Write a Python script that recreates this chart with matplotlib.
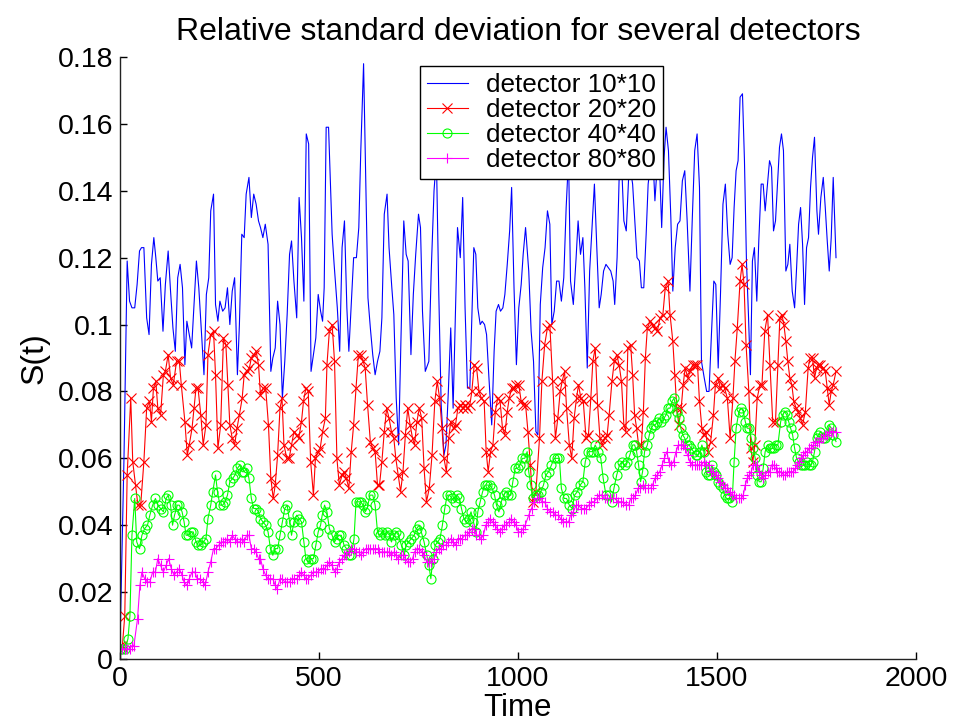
import matplotlib
matplotlib.use("Agg")
import matplotlib.pyplot as plt
from matplotlib.ticker import FixedLocator, FixedFormatter

# ---------------- data ----------------
t_10 = [0,10,18,24,30,37,43,49,54,60,67,73,79,85,90,95,101,108,114,121,127,133,139,145,151,157,163,168,174,180,
        186,192,198,204,211,217,223,228,235,240,246,251,258,264,270,276,282,288,295,300,306,312,317,324,330,336,342,348,353,359,
        365,372,379,384,390,396,402,408,414,420,426,431,437,444,450,456,462,468,474,480,486,492,498,504,509,513,518,524,533,538,
        546,552,558,564,570,575,581,587,594,600,605,612,617,623,629,635,641,647,653,658,664,671,676,683,688,694,700,706,713,719,
        724,731,737,743,750,755,760,767,776,782,789,795,801,807,814,819,825,831,837,843,848,855,861,867,873,879,884,889,894,899,
        905,910,916,921,927,934,940,945,951,956,962,967,973,979,984,990,996,1002,1008,1013,1019,1027,1033,1039,1045,1050,1056,1062,1068,1074,
        1080,1085,1091,1097,1103,1109,1115,1121,1127,1132,1139,1146,1151,1157,1163,1168,1174,1180,1186,1192,1198,1204,1209,1215,1221,1227,1233,1239,1243,1249,
        1255,1261,1266,1272,1278,1283,1288,1293,1299,1305,1310,1316,1322,1327,1333,1339,1344,1350,1356,1361,1367,1372,1378,1384,1389,1395,1401,1407,1413,1419,
        1425,1432,1438,1444,1450,1456,1461,1468,1474,1480,1486,1492,1497,1503,1509,1515,1521,1527,1533,1538,1543,1548,1553,1558,1564,1569,1574,1579,1584,1589,
        1594,1600,1605,1611,1616,1621,1627,1632,1637,1642,1647,1652,1657,1662,1667,1673,1678,1683,1689,1695,1700,1705,1710,1715,1720,1725,1730,1735,1740,1745,
        1751,1755,1761,1767,1772,1777,1782,1787,1792,1799]
s_10 = [0.004,0.060,0.119,0.107,0.105,0.105,0.112,0.122,0.123,0.123,0.102,0.097,0.118,0.126,0.120,0.113,0.114,0.098,0.112,0.122,0.110,0.099,0.092,0.114,0.118,0.111,0.088,0.101,0.097,0.093,
        0.106,0.119,0.111,0.099,0.085,0.109,0.114,0.134,0.139,0.106,0.101,0.107,0.104,0.105,0.111,0.100,0.110,0.114,0.085,0.100,0.127,0.126,0.139,0.144,0.132,0.139,0.136,0.131,0.129,0.126,
        0.130,0.124,0.086,0.090,0.093,0.107,0.100,0.078,0.089,0.103,0.121,0.125,0.113,0.102,0.138,0.126,0.107,0.157,0.154,0.086,0.091,0.096,0.109,0.104,0.101,0.111,0.159,0.159,0.127,0.118,
        0.105,0.092,0.123,0.131,0.105,0.092,0.106,0.120,0.120,0.129,0.152,0.178,0.146,0.108,0.099,0.091,0.085,0.089,0.092,0.102,0.133,0.139,0.123,0.111,0.103,0.078,0.064,0.096,0.131,0.121,
        0.119,0.091,0.109,0.121,0.133,0.129,0.104,0.086,0.089,0.116,0.140,0.150,0.109,0.076,0.061,0.064,0.080,0.099,0.075,0.104,0.129,0.120,0.138,0.105,0.081,0.081,0.102,0.123,0.121,0.105,
        0.100,0.101,0.100,0.097,0.084,0.070,0.092,0.104,0.106,0.104,0.105,0.109,0.118,0.128,0.141,0.111,0.088,0.105,0.112,0.121,0.129,0.116,0.098,0.089,0.068,0.067,0.106,0.117,0.123,0.134,
        0.130,0.100,0.104,0.113,0.113,0.107,0.114,0.135,0.150,0.113,0.106,0.120,0.131,0.121,0.126,0.111,0.087,0.116,0.129,0.142,0.123,0.105,0.109,0.116,0.118,0.117,0.116,0.113,0.106,0.120,
        0.148,0.146,0.131,0.128,0.144,0.146,0.142,0.132,0.120,0.119,0.111,0.111,0.127,0.142,0.148,0.150,0.137,0.148,0.146,0.129,0.150,0.159,0.152,0.132,0.110,0.123,0.130,0.131,0.143,0.146,
        0.131,0.110,0.132,0.152,0.157,0.141,0.089,0.084,0.080,0.080,0.097,0.113,0.112,0.087,0.110,0.136,0.142,0.127,0.118,0.120,0.135,0.146,0.149,0.168,0.169,0.149,0.119,0.103,0.085,0.119,
        0.123,0.107,0.125,0.142,0.142,0.134,0.142,0.149,0.147,0.128,0.131,0.142,0.153,0.157,0.152,0.116,0.118,0.124,0.110,0.105,0.117,0.130,0.135,0.124,0.106,0.123,0.126,0.141,0.150,0.156,
        0.134,0.127,0.138,0.144,0.135,0.125,0.116,0.126,0.144,0.120]

t_20 = [0,6,12,18,27,32,39,45,52,60,67,74,79,84,90,95,102,109,114,121,127,134,142,149,154,163,169,174,181,186,
        191,196,203,209,216,221,228,235,240,246,253,260,266,271,276,282,288,294,300,307,312,318,325,330,337,342,348,353,360,366,
        373,379,385,390,396,402,407,412,419,425,431,437,444,449,456,461,467,473,479,486,491,498,503,509,516,520,526,533,539,545,
        551,558,563,569,575,581,587,593,599,605,611,616,622,629,635,641,647,652,658,664,670,676,682,688,693,699,705,711,717,723,
        729,735,740,746,752,758,764,770,777,784,791,797,803,809,814,820,826,831,838,843,849,855,861,867,873,879,884,890,896,902,
        908,915,920,925,931,937,943,949,955,961,967,973,978,984,990,996,1002,1008,1013,1019,1025,1031,1037,1045,1054,1060,1067,1074,1080,1087,
        1094,1100,1106,1111,1117,1122,1129,1135,1141,1147,1152,1158,1164,1171,1177,1183,1188,1194,1200,1206,1212,1218,1224,1229,1236,1242,1248,1254,1260,1266,
        1271,1276,1283,1288,1293,1298,1303,1310,1315,1320,1325,1332,1338,1343,1350,1357,1364,1370,1377,1382,1389,1394,1399,1404,1410,1415,1420,1427,1432,1439,
        1444,1451,1456,1462,1467,1472,1477,1484,1491,1496,1503,1508,1514,1519,1526,1533,1540,1545,1551,1558,1563,1568,1573,1580,1585,1590,1595,1601,1608,1613,
        1620,1627,1633,1640,1647,1653,1658,1663,1668,1673,1678,1683,1688,1693,1699,1704,1709,1715,1722,1729,1734,1740,1745,1750,1755,1760,1767,1772,1777,1782,
        1787,1792,1799]
s_20 = [0.004,0.004,0.013,0.055,0.078,0.059,0.052,0.046,0.046,0.059,0.075,0.077,0.071,0.081,0.083,0.075,0.073,0.085,0.086,0.091,0.084,0.082,0.089,0.089,0.082,0.071,0.061,0.064,0.069,0.075,
        0.081,0.081,0.073,0.064,0.070,0.091,0.097,0.098,0.085,0.063,0.070,0.096,0.094,0.082,0.070,0.066,0.064,0.069,0.073,0.078,0.085,0.086,0.087,0.090,0.091,0.092,0.088,0.079,0.081,0.081,
        0.070,0.054,0.048,0.052,0.061,0.075,0.078,0.064,0.060,0.060,0.064,0.068,0.067,0.066,0.071,0.077,0.081,0.080,0.059,0.049,0.060,0.062,0.063,0.068,0.072,0.088,0.098,0.100,0.089,0.060,
        0.052,0.055,0.056,0.054,0.051,0.062,0.070,0.081,0.091,0.091,0.089,0.087,0.076,0.065,0.063,0.062,0.052,0.052,0.059,0.068,0.075,0.072,0.068,0.066,0.060,0.055,0.050,0.056,0.067,0.075,
        0.070,0.066,0.064,0.071,0.075,0.072,0.057,0.047,0.051,0.061,0.077,0.083,0.078,0.069,0.060,0.056,0.066,0.071,0.069,0.070,0.075,0.076,0.075,0.076,0.075,0.076,0.080,0.088,0.087,0.080,
        0.078,0.077,0.062,0.056,0.062,0.064,0.074,0.078,0.077,0.069,0.067,0.074,0.078,0.081,0.081,0.082,0.082,0.077,0.076,0.076,0.068,0.058,0.047,0.050,0.066,0.083,0.094,0.099,0.100,0.083,
        0.066,0.072,0.080,0.083,0.086,0.075,0.064,0.060,0.072,0.078,0.082,0.078,0.077,0.066,0.067,0.078,0.089,0.093,0.076,0.066,0.064,0.066,0.067,0.073,0.083,0.089,0.091,0.088,0.083,0.070,
        0.068,0.093,0.094,0.085,0.073,0.069,0.064,0.064,0.074,0.090,0.099,0.101,0.100,0.099,0.098,0.102,0.103,0.111,0.113,0.103,0.095,0.085,0.075,0.070,0.075,0.082,0.087,0.084,0.086,0.088,
        0.088,0.088,0.077,0.069,0.067,0.068,0.062,0.065,0.073,0.082,0.084,0.081,0.082,0.081,0.078,0.066,0.078,0.089,0.099,0.113,0.118,0.112,0.094,0.080,0.063,0.059,0.064,0.078,0.082,0.082,
        0.098,0.103,0.088,0.071,0.071,0.088,0.102,0.103,0.100,0.095,0.089,0.084,0.082,0.077,0.075,0.074,0.072,0.070,0.074,0.087,0.090,0.090,0.084,0.087,0.088,0.088,0.087,0.086,0.081,0.076,
        0.080,0.082,0.086]

t_40 = [0,6,12,20,25,30,37,42,49,55,62,69,75,82,89,95,102,109,116,121,127,132,137,144,149,156,161,166,171,178,
        184,191,196,203,209,216,221,228,233,240,245,251,258,264,270,276,283,289,295,301,307,312,318,324,330,336,342,348,353,359,
        366,372,378,384,390,396,402,408,414,420,426,431,437,444,450,456,462,467,473,479,486,492,498,504,508,514,520,526,533,539,
        544,550,556,563,569,575,581,588,593,600,605,611,616,621,628,635,641,647,653,658,665,670,677,682,688,693,700,707,714,719,
        725,732,739,745,752,757,764,771,776,781,786,792,798,804,810,816,822,828,834,841,847,853,858,864,870,876,882,888,894,899,
        905,911,917,923,929,935,941,946,952,958,964,970,976,982,987,993,999,1005,1011,1017,1023,1027,1032,1037,1044,1050,1057,1064,1070,1077,
        1084,1091,1097,1104,1109,1116,1122,1129,1136,1142,1149,1156,1163,1169,1176,1183,1188,1194,1201,1208,1214,1221,1228,1235,1241,1248,1255,1261,1268,1275,
        1281,1288,1293,1298,1303,1308,1313,1318,1325,1330,1335,1340,1345,1350,1355,1360,1367,1372,1377,1382,1387,1392,1399,1404,1409,1414,1419,1425,1430,1435,
        1441,1446,1451,1457,1462,1467,1472,1477,1482,1487,1492,1497,1503,1508,1514,1519,1524,1531,1538,1543,1548,1555,1561,1566,1571,1576,1581,1586,1591,1596,
        1601,1606,1611,1616,1621,1627,1632,1637,1642,1647,1653,1660,1665,1670,1675,1680,1685,1690,1695,1700,1705,1710,1715,1720,1725,1730,1735,1740,1745,1750,
        1755,1760,1767,1772,1777,1782,1787,1792,1799]
s_40 = [0.003,0.003,0.003,0.006,0.013,0.037,0.048,0.035,0.033,0.037,0.039,0.040,0.043,0.046,0.048,0.046,0.045,0.044,0.048,0.049,0.046,0.040,0.043,0.046,0.046,0.044,0.041,0.037,0.037,0.038,
        0.038,0.035,0.034,0.034,0.035,0.036,0.042,0.046,0.050,0.055,0.050,0.046,0.046,0.047,0.049,0.053,0.054,0.055,0.057,0.058,0.056,0.056,0.057,0.054,0.048,0.045,0.045,0.044,0.042,0.041,
        0.040,0.038,0.033,0.031,0.033,0.033,0.037,0.041,0.045,0.046,0.041,0.037,0.041,0.043,0.042,0.041,0.035,0.030,0.029,0.030,0.030,0.034,0.038,0.040,0.043,0.046,0.044,0.039,0.037,0.035,
        0.036,0.037,0.037,0.034,0.033,0.031,0.031,0.036,0.047,0.047,0.047,0.046,0.044,0.045,0.049,0.049,0.046,0.038,0.037,0.038,0.037,0.038,0.037,0.035,0.037,0.038,0.037,0.034,0.031,0.034,
        0.035,0.036,0.037,0.039,0.040,0.038,0.035,0.031,0.028,0.024,0.030,0.034,0.035,0.036,0.040,0.045,0.049,0.049,0.048,0.047,0.049,0.048,0.045,0.042,0.041,0.042,0.044,0.041,0.038,0.044,
        0.047,0.050,0.052,0.052,0.052,0.051,0.049,0.046,0.044,0.047,0.049,0.050,0.049,0.049,0.053,0.057,0.057,0.058,0.060,0.060,0.062,0.056,0.052,0.048,0.049,0.049,0.050,0.052,0.055,0.056,
        0.058,0.060,0.060,0.060,0.051,0.048,0.048,0.046,0.045,0.049,0.050,0.052,0.053,0.059,0.062,0.062,0.062,0.064,0.062,0.060,0.054,0.049,0.049,0.047,0.051,0.055,0.058,0.059,0.058,0.059,
        0.061,0.064,0.064,0.062,0.058,0.053,0.056,0.062,0.064,0.067,0.069,0.070,0.070,0.071,0.072,0.071,0.072,0.073,0.075,0.075,0.077,0.078,0.074,0.072,0.069,0.067,0.066,0.064,0.064,0.063,
        0.062,0.061,0.061,0.062,0.064,0.062,0.056,0.055,0.055,0.058,0.056,0.055,0.053,0.052,0.051,0.049,0.048,0.048,0.047,0.059,0.069,0.074,0.075,0.074,0.071,0.069,0.069,0.066,0.063,0.060,
        0.055,0.053,0.053,0.057,0.062,0.064,0.063,0.063,0.063,0.064,0.064,0.071,0.073,0.074,0.073,0.071,0.069,0.067,0.063,0.060,0.059,0.058,0.058,0.058,0.059,0.058,0.058,0.059,0.062,0.066,
        0.067,0.068,0.066,0.066,0.067,0.070,0.069,0.067,0.065]

t_80 = [0,6,12,18,24,30,35,44,50,55,62,69,75,82,89,95,102,109,116,122,129,136,142,149,156,161,168,174,181,188,
        194,201,209,214,221,228,235,241,248,255,258,264,270,276,282,288,295,301,307,312,318,324,330,336,342,348,353,359,366,372,
        378,384,390,395,402,408,414,420,426,431,437,444,450,456,462,467,473,479,486,492,498,504,511,514,520,526,533,539,545,551,
        558,564,569,575,581,588,594,600,605,611,617,623,629,635,641,647,652,658,664,670,676,682,688,693,699,705,711,717,723,729,
        735,740,746,752,758,764,771,776,782,789,795,801,807,812,818,825,831,837,843,848,854,860,866,872,878,884,889,895,901,907,
        913,919,925,930,936,942,948,954,960,966,971,977,983,989,995,1001,1007,1013,1018,1027,1034,1040,1047,1054,1060,1067,1074,1080,1087,1094,
        1101,1107,1114,1121,1127,1132,1139,1146,1152,1159,1166,1171,1178,1184,1191,1198,1204,1211,1218,1224,1231,1238,1245,1251,1258,1265,1271,1278,1283,1289,
        1295,1302,1307,1313,1320,1327,1333,1338,1344,1350,1356,1362,1368,1374,1379,1385,1391,1397,1403,1409,1415,1420,1426,1432,1438,1444,1450,1456,1461,1467,
        1473,1479,1485,1491,1497,1502,1508,1514,1520,1526,1532,1538,1543,1548,1555,1561,1566,1571,1576,1581,1586,1591,1596,1601,1606,1611,1616,1621,1627,1632,
        1637,1642,1647,1652,1657,1662,1667,1672,1677,1682,1687,1692,1697,1702,1707,1712,1717,1722,1727,1732,1737,1742,1747,1752,1757,1762,1767,1772,1777,1782,
        1787,1792,1799]
s_80 = [0.003,0.003,0.003,0.003,0.003,0.004,0.004,0.012,0.022,0.026,0.024,0.023,0.023,0.026,0.026,0.030,0.028,0.026,0.028,0.030,0.027,0.025,0.026,0.027,0.025,0.023,0.022,0.024,0.026,0.026,
        0.024,0.024,0.023,0.022,0.026,0.029,0.033,0.033,0.034,0.035,0.035,0.035,0.036,0.035,0.037,0.036,0.035,0.035,0.036,0.035,0.037,0.037,0.033,0.033,0.032,0.030,0.030,0.027,0.025,0.024,
        0.024,0.024,0.022,0.021,0.024,0.024,0.023,0.023,0.023,0.024,0.024,0.024,0.025,0.026,0.025,0.024,0.024,0.025,0.026,0.026,0.026,0.027,0.027,0.027,0.028,0.029,0.028,0.026,0.027,0.029,
        0.030,0.031,0.031,0.032,0.033,0.033,0.032,0.032,0.031,0.032,0.033,0.033,0.033,0.033,0.033,0.033,0.032,0.032,0.032,0.032,0.032,0.031,0.032,0.031,0.030,0.031,0.031,0.030,0.029,0.029,
        0.030,0.032,0.033,0.033,0.032,0.031,0.029,0.029,0.029,0.030,0.032,0.033,0.033,0.034,0.034,0.035,0.036,0.035,0.034,0.036,0.036,0.036,0.037,0.037,0.038,0.039,0.039,0.037,0.037,0.036,
        0.037,0.040,0.041,0.042,0.041,0.040,0.039,0.038,0.039,0.040,0.040,0.041,0.042,0.041,0.040,0.038,0.038,0.039,0.040,0.043,0.045,0.047,0.048,0.048,0.047,0.047,0.045,0.044,0.044,0.043,
        0.043,0.042,0.041,0.041,0.041,0.043,0.044,0.046,0.046,0.045,0.045,0.045,0.046,0.047,0.047,0.048,0.049,0.049,0.048,0.048,0.048,0.048,0.048,0.047,0.047,0.047,0.046,0.046,0.048,0.048,
        0.049,0.051,0.051,0.052,0.051,0.051,0.051,0.052,0.054,0.055,0.056,0.058,0.060,0.062,0.059,0.058,0.059,0.062,0.064,0.064,0.064,0.063,0.061,0.059,0.058,0.058,0.058,0.058,0.058,0.059,
        0.058,0.058,0.056,0.056,0.055,0.054,0.053,0.052,0.051,0.051,0.050,0.049,0.049,0.048,0.048,0.048,0.049,0.052,0.054,0.055,0.056,0.058,0.058,0.058,0.056,0.055,0.054,0.055,0.056,0.056,
        0.058,0.058,0.057,0.056,0.056,0.056,0.055,0.055,0.056,0.056,0.056,0.056,0.057,0.058,0.059,0.060,0.061,0.062,0.062,0.063,0.063,0.064,0.065,0.065,0.065,0.066,0.066,0.067,0.067,0.068,
        0.068,0.068,0.068]

labels = ["detector 10*10", "detector 20*20", "detector 40*40", "detector 80*80"]
x_ticks = [0, 500, 1000, 1500, 2000]
x_tick_labels = ["0", "500", "1000", "1500", "2000"]
y_ticks = [0, 0.02, 0.04, 0.06, 0.08, 0.1, 0.12, 0.14, 0.16, 0.18]
y_tick_labels = ["0", "0.02", "0.04", "0.06", "0.08", "0.1", "0.12", "0.14", "0.16", "0.18"]

# ---------------- figure ----------------
plt.rcParams['font.family'] = ['Liberation Sans', 'DejaVu Sans']
fig = plt.figure(figsize=(9.66, 7.23), dpi=100)
ax = fig.add_axes([120/966, 1-659/723, 796/966, 602/723])

lw = 0.8
ax.plot(t_10, s_10, color=(0, 0, 1), lw=lw, label=labels[0])
ax.plot(t_20, s_20, color=(1, 0, 0), lw=lw, marker='x', ms=6.5, mew=0.8, label=labels[1])
ax.plot(t_40, s_40, color=(0, 1, 0), lw=lw, marker='o', ms=6.5, mew=0.8, mfc='none', label=labels[2])
ax.plot(t_80, s_80, color=(1, 0, 1), lw=lw, marker='+', ms=7.5, mew=0.8, label=labels[3])

ax.set_xlim(0, 2000)
ax.set_ylim(0, 0.18)
ax.xaxis.set_major_locator(FixedLocator(x_ticks))
ax.xaxis.set_major_formatter(FixedFormatter(x_tick_labels))
ax.yaxis.set_major_locator(FixedLocator(y_ticks))
ax.yaxis.set_major_formatter(FixedFormatter(y_tick_labels))

for side in ['top', 'right']:
    ax.spines[side].set_visible(False)
for side in ['left', 'bottom']:
    ax.spines[side].set_linewidth(1.0)
    ax.spines[side].set_color('#222222')
ax.tick_params(direction='in', length=5, width=1.0, labelsize=20.5, pad=5, colors='black')

ax.set_title("Relative standard deviation for several detectors", fontsize=23, pad=12)
ax.set_xlabel("Time", fontsize=22.5, labelpad=1)
ax.set_ylabel("S(t)", fontsize=23, labelpad=6)

leg = ax.legend(loc='upper left', bbox_to_anchor=((420-120)/796, (659-66)/602), borderaxespad=0,
                fontsize=18.8, frameon=True, fancybox=False, framealpha=1, edgecolor='black',
                handlelength=1.55, handletextpad=0.72, labelspacing=0.04, borderpad=0.27)
leg.get_frame().set_linewidth(1.0)

fig.savefig("out.png", dpi=100)
